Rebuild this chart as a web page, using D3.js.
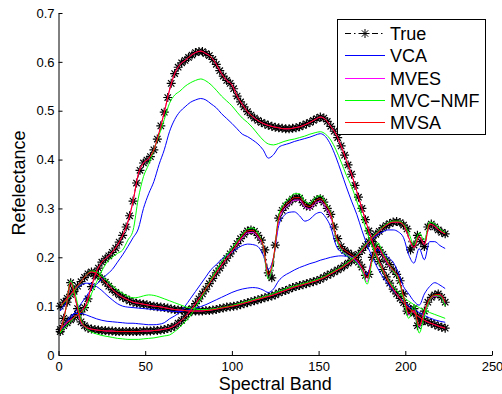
<!DOCTYPE html>
<html><head><meta charset="utf-8">
<script src="https://cdn.jsdelivr.net/npm/d3@7"></script>
<style>body{margin:0;background:#fff}svg{display:block}text{font-family:"Liberation Sans",Arial,Helvetica,sans-serif;fill:#000}</style>
</head><body><svg id="c" width="502" height="394"></svg>
<script>
// spectral band indices
const trueBands = d3.range(1, 224, 2);   // true signatures, every 2nd band
const bands = d3.range(1, 224, 3);       // estimates, every 3rd band
const xTicks = [0, 50, 100, 150, 200, 250];
const yTicks = [0, 0.1, 0.2, 0.3, 0.4, 0.5, 0.6, 0.7];
const seriesNames = ["True", "VCA", "MVES", "MVC\u2212NMF", "MVSA"];
const seriesColors = ["#000000", "#0000ff", "#ff00ff", "#00ff00", "#ff0000"];

// True endmember signatures
const trueA = [.052,.060,.066,.072,.077,.083,.088,.097,.115,.140,.162,.178,.190,.197,.203,.210,
 .219,.231,.245,.262,.285,.315,.352,.378,.393,.399,.406,.420,.442,.469,.497,.527,
 .556,.576,.589,.598,.603,.609,.614,.619,.621,.621,.617,.613,.605,.595,.582,.571,
 .562,.556,.545,.530,.518,.508,.498,.491,.485,.480,.476,.473,.470,.468,.466,.465,
 .464,.463,.463,.464,.465,.467,.470,.473,.476,.480,.484,.487,.485,.478,.468,.458,
 .445,.428,.409,.389,.370,.347,.323,.300,.277,.254,.232,.210,.191,.175,.160,.147,
 .135,.125,.116,.107,.099,.093,.086,.080,.075,.071,.068,.065,.062,.059,.057,.055];
const trueB = [.100,.108,.116,.124,.133,.141,.150,.159,.166,.170,.168,.163,.156,.149,.141,.134,
 .128,.123,.118,.115,.111,.108,.106,.105,.104,.103,.101,.100,.099,.098,.097,.096,
 .094,.093,.092,.092,.091,.091,.090,.090,.090,.090,.091,.091,.092,.093,.095,.096,
 .098,.099,.100,.101,.103,.105,.107,.109,.111,.113,.115,.117,.119,.121,.123,.127,
 .130,.132,.135,.138,.140,.142,.144,.146,.148,.150,.152,.155,.159,.163,.166,.170,
 .174,.178,.183,.188,.193,.199,.206,.214,.223,.232,.240,.247,.253,.260,.265,.269,
 .272,.273,.271,.266,.258,.215,.225,.245,.232,.222,.262,.268,.262,.256,.251,.248];
const trueC = [.048,.075,.108,.148,.130,.095,.068,.060,.055,.053,.052,.051,.050,.050,.049,.049,
 .048,.048,.048,.048,.048,.048,.048,.048,.049,.049,.049,.050,.050,.051,.052,.054,
 .056,.059,.065,.071,.078,.086,.095,.105,.115,.125,.135,.146,.157,.168,.178,.188,
 .198,.207,.217,.228,.238,.247,.254,.256,.253,.245,.235,.215,.168,.158,.225,.280,
 .296,.305,.313,.319,.323,.321,.312,.305,.304,.311,.318,.320,.313,.300,.288,.262,
 .238,.222,.214,.209,.205,.200,.190,.180,.163,.165,.200,.222,.215,.206,.194,.185,
 .174,.165,.152,.125,.090,.088,.095,.060,.068,.090,.108,.118,.123,.125,.118,.108];

// VCA estimates
const vcaA = [.050,.062,.075,.090,.105,.120,.135,.145,.155,.165,.175,.190,.205,.222,.240,
 .258,.300,.330,.355,.390,.420,.457,.482,.498,.508,.517,.522,.525,.522,.514,
 .506,.494,.484,.474,.463,.452,.447,.440,.432,.420,.403,.410,.425,.430,.433,
 .437,.440,.443,.446,.450,.453,.447,.430,.405,.375,.344,.315,.288,.255,.225,
 .200,.178,.160,.145,.132,.120,.110,.100,.093,.087,.081,.076,.072,.069,.067];
const vcaB = [.090,.105,.122,.135,.143,.147,.146,.140,.132,.122,.113,.105,.100,.098,.097,
 .096,.095,.094,.093,.092,.091,.090,.089,.089,.091,.093,.096,.099,.103,.108,
 .113,.118,.123,.128,.132,.135,.137,.138,.137,.133,.128,.135,.152,.162,.168,
 .174,.179,.183,.187,.190,.194,.197,.200,.202,.203,.202,.200,.205,.215,.228,
 .238,.246,.252,.256,.256,.252,.240,.205,.188,.218,.195,.232,.232,.224,.218];
const vcaC = [.050,.065,.080,.085,.085,.082,.078,.074,.071,.069,.068,.067,.066,.065,.065,
 .064,.063,.062,.062,.063,.066,.074,.080,.088,.100,.115,.130,.145,.160,.175,
 .185,.196,.204,.210,.218,.224,.227,.226,.222,.205,.175,.200,.265,.285,.292,
 .293,.285,.274,.278,.288,.292,.282,.262,.225,.210,.205,.200,.190,.175,.165,
 .200,.215,.210,.200,.190,.168,.140,.125,.110,.102,.125,.140,.148,.143,.136];

// MVES estimates
const mvesA = [.052,.064,.072,.080,.088,.105,.140,.172,.190,.200,.210,.225,.245,.272,.315,
 .370,.393,.402,.420,.455,.497,.542,.576,.594,.603,.612,.619,.622,.617,.610,
 .595,.576,.562,.553,.530,.513,.498,.488,.480,.474,.470,.467,.465,.463,.463,
 .465,.467,.471,.476,.482,.487,.482,.468,.452,.428,.398,.370,.335,.300,.265,
 .232,.200,.175,.153,.135,.120,.107,.096,.086,.078,.071,.066,.062,.058,.055];
const mvesB = [.100,.112,.124,.137,.150,.163,.170,.166,.156,.145,.134,.125,.118,.113,.108,
 .106,.104,.102,.100,.099,.097,.095,.093,.092,.091,.090,.090,.090,.091,.092,
 .094,.096,.098,.100,.102,.105,.108,.111,.114,.117,.120,.123,.127,.131,.135,
 .139,.142,.145,.148,.151,.155,.160,.166,.172,.178,.185,.193,.202,.214,.228,
 .240,.250,.260,.268,.272,.272,.266,.240,.220,.243,.226,.268,.263,.254,.248];
const mvesC = [.048,.092,.150,.112,.066,.056,.053,.051,.050,.049,.049,.048,.048,.048,.048,
 .048,.049,.049,.050,.051,.053,.055,.060,.068,.078,.090,.105,.120,.135,.152,
 .168,.183,.198,.212,.226,.240,.250,.251,.241,.220,.155,.195,.275,.298,.308,
 .317,.317,.303,.299,.310,.315,.302,.282,.240,.216,.206,.200,.192,.175,.150,
 .198,.220,.204,.186,.172,.158,.118,.082,.090,.058,.088,.112,.120,.121,.105];

// MVC-NMF estimates
const mvcA = [.045,.058,.068,.080,.088,.097,.125,.150,.172,.190,.200,.208,.215,.235,.255,
 .320,.365,.390,.420,.450,.482,.515,.532,.540,.550,.557,.562,.565,.561,.553,
 .542,.530,.520,.510,.497,.485,.476,.465,.452,.440,.432,.430,.433,.437,.440,
 .442,.445,.448,.452,.455,.457,.452,.440,.420,.395,.368,.345,.315,.283,.250,
 .222,.195,.172,.155,.140,.128,.118,.110,.103,.097,.092,.087,.083,.079,.075];
const mvcB = [.100,.110,.120,.135,.150,.163,.172,.170,.162,.152,.142,.133,.126,.120,.117,
 .118,.121,.123,.122,.119,.115,.111,.107,.103,.099,.096,.094,.093,.093,.094,
 .095,.097,.099,.101,.104,.107,.110,.113,.116,.119,.122,.126,.130,.134,.138,
 .141,.144,.147,.150,.153,.157,.162,.168,.174,.180,.188,.196,.205,.217,.230,
 .242,.252,.262,.270,.274,.274,.268,.250,.225,.250,.235,.272,.268,.258,.250];
const mvcC = [.045,.090,.152,.120,.072,.055,.047,.043,.040,.038,.036,.034,.033,.032,.032,
 .032,.033,.034,.035,.037,.039,.041,.048,.057,.068,.080,.098,.115,.135,.155,
 .173,.190,.205,.218,.232,.247,.258,.260,.250,.222,.155,.195,.285,.310,.320,
 .330,.330,.315,.310,.322,.326,.312,.290,.240,.215,.205,.198,.188,.172,.145,
 .195,.230,.210,.190,.172,.155,.115,.075,.100,.045,.080,.112,.122,.120,.100];

// MVSA estimates
const mvsaA = [.052,.064,.072,.080,.088,.105,.140,.172,.190,.200,.210,.225,.245,.272,.315,
 .370,.393,.402,.420,.455,.497,.542,.576,.594,.603,.612,.619,.622,.617,.610,
 .595,.576,.562,.553,.530,.513,.498,.488,.480,.474,.470,.467,.465,.463,.463,
 .465,.467,.471,.476,.482,.487,.482,.468,.452,.428,.398,.370,.335,.300,.265,
 .232,.200,.175,.153,.135,.120,.107,.096,.086,.078,.071,.066,.062,.058,.055];
const mvsaB = [.100,.112,.124,.137,.150,.163,.170,.166,.156,.145,.134,.125,.118,.113,.108,
 .106,.104,.102,.100,.099,.097,.095,.093,.092,.091,.090,.090,.090,.091,.092,
 .094,.096,.098,.100,.102,.105,.108,.111,.114,.117,.120,.123,.127,.131,.135,
 .139,.142,.145,.148,.151,.155,.160,.166,.172,.178,.185,.193,.202,.214,.228,
 .240,.250,.260,.268,.272,.272,.266,.240,.220,.243,.226,.268,.263,.254,.248];
const mvsaC = [.048,.090,.148,.110,.068,.057,.053,.051,.050,.049,.049,.048,.048,.048,.048,
 .048,.049,.049,.050,.051,.053,.055,.060,.068,.078,.090,.105,.120,.135,.152,
 .168,.183,.198,.212,.228,.243,.254,.255,.245,.225,.165,.200,.280,.303,.313,
 .322,.322,.308,.304,.315,.320,.308,.288,.245,.222,.212,.205,.196,.180,.158,
 .200,.222,.206,.188,.174,.160,.120,.086,.092,.060,.090,.115,.123,.124,.108];

const groups = [
  [trueA, trueB, trueC],
  [vcaA, vcaB, vcaC],
  [mvesA, mvesB, mvesC],
  [mvcA, mvcB, mvcC],
  [mvsaA, mvsaB, mvsaC]
];

const svg = d3.select("#c");
const x = d3.scaleLinear([0, 250], [58.5, 492]);
const y = d3.scaleLinear([0, 0.7], [355, 13]);

const lineFor = bs => d3.line().x((d, i) => x(bs[i])).y(d => y(d)).curve(d3.curveMonotoneX);
const trueLine = lineFor(trueBands), estLine = lineFor(bands);
const star = "M-4.5,0H4.5M0,-4.5V4.5M-3.2,-3.2L3.2,3.2M-3.2,3.2L3.2,-3.2";

// True: dash-dot black with star markers
groups[0].forEach(arr => {
  svg.append("path").attr("d", trueLine(arr)).attr("fill", "none")
    .attr("stroke", "#000").attr("stroke-width", 1).attr("stroke-dasharray", "6,3,1.5,3");
  svg.append("g").selectAll("path").data(arr).join("path")
    .attr("transform", (d, i) => `translate(${x(trueBands[i])},${y(d)})`)
    .attr("d", star).attr("stroke", "#000").attr("stroke-width", 1.2).attr("fill", "none");
});
// estimates
for (let s = 1; s < groups.length; s++) {
  groups[s].forEach(arr => {
    svg.append("path").attr("d", estLine(arr)).attr("fill", "none")
      .attr("stroke", seriesColors[s]).attr("stroke-width", 1);
  });
}

// axes
const fmt = d => d === 0 ? "0" : d3.format(".1f")(d);
const gx = svg.append("g").attr("transform", "translate(0,355)")
  .call(d3.axisBottom(x).tickValues(xTicks).tickSizeInner(-4).tickSizeOuter(0).tickPadding(7));
const gy = svg.append("g").attr("transform", "translate(58.5,0)")
  .call(d3.axisLeft(y).tickValues(yTicks).tickFormat(fmt).tickSizeInner(-4).tickSizeOuter(0).tickPadding(4));
[gx, gy].forEach(g => {
  g.selectAll("text").attr("font-size", 13).attr("font-family", "Liberation Sans, Arial, sans-serif").attr("fill", "#000");
  g.selectAll("line,path").attr("stroke", "#000");
});

svg.append("text").attr("x", x(125)).attr("y", 390).attr("text-anchor", "middle")
  .attr("font-size", 18).text("Spectral Band");
svg.append("text").attr("transform", "translate(25,183) rotate(-90)").attr("text-anchor", "middle")
  .attr("font-size", 18).text("Refelectance");

// legend
const lg = svg.append("g");
lg.append("rect").attr("x", 337.5).attr("y", 19.5).attr("width", 148).attr("height", 115)
  .attr("fill", "#fff").attr("stroke", "#000").attr("stroke-width", 1);
seriesNames.forEach((n, i) => {
  const cy = Math.round(33 + i * 22.25) + 0.5;
  lg.append("line").attr("x1", 345).attr("x2", 385).attr("y1", cy).attr("y2", cy)
    .attr("stroke", seriesColors[i]).attr("stroke-width", 1)
    .attr("stroke-dasharray", i === 0 ? "6,3,1.5,3" : null);
  if (i === 0) lg.append("path").attr("transform", `translate(365,${cy})`).attr("d", star)
    .attr("stroke", "#000").attr("fill", "none");
  lg.append("text").attr("x", 390).attr("y", cy + 6).attr("font-size", 18).text(n);
});
</script></body></html>
